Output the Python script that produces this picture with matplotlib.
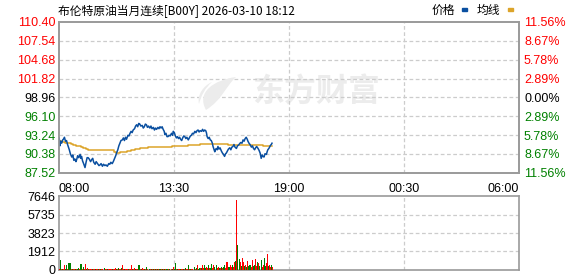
import numpy as np
import matplotlib
matplotlib.use("Agg")
import matplotlib.pyplot as plt
from matplotlib.path import Path
from matplotlib.patches import PathPatch

plt.rcParams['font.family'] = ['Liberation Sans', 'Noto Sans CJK SC', 'DejaVu Sans']

# ---------------- data ----------------
title_text = "布伦特原油当月连续[B00Y] 2026-03-10 18:12"
legend_labels = ["价格", "均线"]

time_ticks = [0, 330, 660, 990, 1320]          # minutes after 08:00
time_labels = ["08:00", "13:30", "19:00", "00:30", "06:00"]

price_ticks = [110.40, 107.54, 104.68, 101.82, 98.96, 96.10, 93.24, 90.38, 87.52]
price_labels = ["110.40", "107.54", "104.68", "101.82", "98.96", "96.10", "93.24", "90.38", "87.52"]
pct_labels = ["11.56%", "8.67%", "5.78%", "2.89%", "0.00%", "2.89%", "5.78%", "8.67%", "11.56%"]
label_side = ["up", "up", "up", "up", "flat", "down", "down", "down", "down"]

vol_ticks = [0, 1912, 3823, 5735, 7646]
vol_labels = ["0", "1912", "3823", "5735", "7646"]

price_t = [0, 2, 4, 6, 9, 12, 14, 17, 20, 23, 26, 28, 31, 34, 38, 41, 44, 47, 50, 52,
           55, 58, 62, 64, 66, 69, 72, 76, 79, 82, 85, 88, 92, 95, 98, 101, 105, 108, 112, 116,
           119, 122, 126, 129, 133, 136, 140, 144, 147, 150, 154, 157, 160, 164, 167, 170, 173, 176, 179, 183,
           186, 189, 192, 195, 199, 202, 205, 208, 211, 214, 218, 221, 224, 227, 230, 233, 236, 240, 243, 246,
           249, 252, 255, 258, 262, 265, 268, 272, 275, 278, 281, 285, 288, 291, 294, 297, 300, 303, 305, 308,
           311, 314, 317, 320, 324, 327, 329, 332, 335, 338, 341, 344, 347, 350, 353, 356, 359, 362, 365, 368,
           372, 375, 378, 381, 384, 387, 391, 394, 397, 400, 403, 406, 410, 413, 416, 419, 422, 424, 426, 429,
           432, 435, 438, 441, 443, 446, 448, 450, 452, 455, 457, 460, 463, 467, 470, 473, 476, 479, 481, 484,
           487, 491, 494, 497, 500, 503, 506, 510, 513, 516, 519, 522, 526, 529, 532, 535, 538, 541, 543, 546,
           549, 553, 556, 559, 562, 565, 568, 572, 575, 578, 581, 584, 586, 589, 592, 596, 598, 600, 603, 606,
           608, 610, 612]
price_v = [92.0, 92.8, 91.6, 92.3, 92.0, 92.5, 92.6, 92.9, 92.3, 92.4, 91.8, 91.5, 91.0, 90.4, 89.9, 90.2, 89.4, 89.6, 89.2, 89.5,
           90.1, 89.8, 90.3, 89.7, 90.0, 89.3, 88.9, 88.3, 89.1, 89.8, 89.8, 89.6, 89.2, 89.5, 89.7, 89.1, 88.8, 89.2, 88.9, 88.6,
           88.7, 88.9, 88.5, 88.8, 88.6, 88.7, 88.5, 88.9, 88.8, 89.1, 88.9, 89.2, 89.6, 90.1, 90.6, 91.0, 91.6, 92.0, 92.4, 92.5,
           92.8, 92.4, 92.9, 92.6, 93.2, 93.1, 93.5, 93.8, 93.6, 94.0, 94.2, 94.6, 94.8, 94.5, 95.0, 94.9, 94.6, 94.7, 94.3, 94.5,
           94.9, 94.8, 94.4, 94.6, 94.3, 94.6, 94.2, 94.4, 94.0, 94.3, 94.1, 94.4, 94.2, 94.5, 94.3, 94.5, 94.1, 93.8, 93.3, 93.5,
           93.0, 93.0, 93.2, 93.1, 93.5, 93.2, 93.8, 93.6, 93.1, 92.8, 93.0, 92.7, 92.9, 92.6, 92.4, 92.8, 93.1, 93.0, 92.7, 92.9,
           92.5, 92.8, 93.1, 93.2, 93.5, 93.4, 93.8, 93.6, 93.9, 94.0, 93.7, 93.9, 93.8, 94.1, 93.8, 94.0, 93.9, 93.6, 93.0, 92.7,
           92.9, 92.5, 92.4, 92.0, 91.5, 91.0, 90.7, 91.0, 91.2, 91.0, 91.5, 91.1, 91.3, 90.8, 90.5, 90.3, 90.0, 90.4, 90.5, 90.8,
           91.1, 91.3, 91.0, 91.4, 91.5, 91.8, 91.4, 91.2, 91.6, 91.7, 91.9, 92.1, 92.0, 92.5, 92.3, 92.7, 92.9, 92.6, 92.3, 92.0,
           91.8, 91.4, 91.6, 91.2, 91.0, 91.3, 91.5, 91.2, 90.9, 90.5, 89.7, 90.2, 90.0, 89.9, 90.4, 90.3, 90.7, 91.0, 91.2, 91.5,
           91.7, 91.8, 92.0]

avg_t = [0, 10, 20, 28, 35, 42, 50, 57, 64, 71, 78, 85, 120, 150, 160, 166, 176, 186, 195, 207,
         219, 233, 257, 324, 372, 405, 486, 562, 586, 612]
avg_v = [92.3, 92.2, 92.1, 92.0, 91.9, 91.75, 91.6, 91.5, 91.4, 91.25, 91.1, 91.0, 90.95, 90.9, 90.6, 90.5, 90.6, 90.7, 90.8, 90.95,
         91.1, 91.25, 91.4, 91.6, 91.75, 91.85, 91.75, 91.65, 91.5, 91.5]

# volume per 3-minute slot from 08:00
vol_v = [80, 1050, 90, 70, 80, 510, 90, 450, 100, 680,
         750, 750, 90, 80, 120, 70, 80, 70, 90, 230,
         80, 640, 100, 340, 90, 640, 80, 170, 70, 70,
         70, 60, 70, 70, 60, 70, 80, 70, 60, 70,
         60, 70, 70, 170, 70, 60, 70, 70, 80, 60,
         70, 60, 70, 70, 170, 70, 80, 230, 70, 60,
         170, 450, 80, 70, 60, 70, 80, 70, 90, 450,
         80, 70, 170, 60, 70, 80, 450, 450, 90, 70,
         170, 70, 80, 70, 340, 80, 70, 60, 70, 80,
         70, 60, 70, 80, 70, 60, 70, 70, 80, 70,
         70, 80, 90, 80, 100, 90, 80, 100, 120, 340,
         100, 680, 120, 90, 80, 100, 90, 80, 100, 120,
         90, 200, 100, 120, 450, 110, 100, 90, 120, 340,
         120, 150, 540, 130, 200, 150, 180, 450, 160, 540,
         200, 340, 150, 450, 180, 220, 640, 200, 540, 250,
         540, 220, 340, 180, 200, 250, 200, 300, 540, 220,
         850, 780, 300, 270, 450, 250, 540, 300, 780, 920,
         7250, 2570, 1100, 850, 400, 1260, 780, 350, 450, 300,
         950, 350, 450, 540, 300, 1030, 350, 540, 1130, 400,
         780, 680, 350, 1030, 300, 540, 1260, 400, 680, 1660,
         350, 540, 300, 540, 340]
vol_dir = ("RGRGRRGGRG" "GGRGRRGRGG" "RGRGRRGRGR" "RRGRRGRRGR" "GRRGRRGRRR"
           "RGRRRGRGRR" "GRRGRRGRRR" "GRRGRRGGRG" "RRGRGRGRGR" "GRGRGRGGRG"
           "RGRGGRGRGR" "GGRGRRGRRG" "RGRRGRGRRG" "RGRGGRGRRG" "GRRGRGGRRG"
           "GRRGRGRGGR" "RRGGRRGRRG" "RGGRGRRGRG" "RGGGRRGGRR" "GRGGRRGGRR"
           "GRRGR")

# ---------------- style ----------------
RED = "#ff0000"
GREEN = "#008000"
DARK = "#000000"
BLUE = "#0a4fa0"
GOLD = "#dca42a"
GRID = "#cccccc"
SPINE = "#9a9a9a"
WMARK = "#ececec"

W, H = 578, 276
fig = plt.figure(figsize=(W / 100, H / 100), dpi=100)
fig.patch.set_facecolor("white")

def box(l, t, r, b):
    return [l / W, 1 - b / H, (r - l) / W, (b - t) / H]

ax = fig.add_axes(box(58.5, 22, 519, 172.7))
axv = fig.add_axes(box(58.5, 196.3, 519, 269.8))

# watermark (logo + text), in figure pixel space
def fp(x, y):
    return (x / W, 1 - y / H)

leaf = Path([fp(206, 110), fp(196, 92), fp(214, 80), fp(236, 77),
             fp(226, 86), fp(222, 100), fp(206, 110), fp(206, 110)],
            [Path.MOVETO, Path.CURVE4, Path.CURVE4, Path.CURVE4,
             Path.CURVE4, Path.CURVE4, Path.CURVE4, Path.CLOSEPOLY])
fig.patches.append(PathPatch(leaf, transform=fig.transFigure, facecolor=WMARK,
                             edgecolor="none", figure=fig, zorder=0))
stroke = Path([fp(199, 104), fp(197, 95), fp(203, 86), fp(212, 82),
               fp(205, 88), fp(201, 96), fp(199, 104), fp(199, 104)],
              [Path.MOVETO, Path.CURVE4, Path.CURVE4, Path.CURVE4,
               Path.CURVE4, Path.CURVE4, Path.CURVE4, Path.CLOSEPOLY])
fig.patches.append(PathPatch(stroke, transform=fig.transFigure, facecolor=WMARK,
                             edgecolor="none", figure=fig, zorder=0))
ax.patch.set_alpha(0)
ax.text(0.56, 0.53, "东方财富", transform=ax.transAxes, ha="center", va="center",
        fontsize=23, fontweight="bold", color=WMARK, family=["Noto Sans CJK SC"], zorder=0)

# main price panel
ax.set_xlim(time_ticks[0], time_ticks[-1])
ax.set_ylim(price_ticks[-1], price_ticks[0])
ax.set_xticks(time_ticks)
ax.set_xticklabels([])
ax.set_yticks(price_ticks)
ax.set_yticklabels(price_labels, fontsize=9)
ax.tick_params(axis="both", length=0)
ax.tick_params(axis="y", pad=2.2)
for x in time_ticks[1:-1]:
    ax.axvline(x, color=GRID, lw=0.9, ls=(0, (3, 2)), zorder=1)
for y in price_ticks[1:-1]:
    ax.axhline(y, color=GRID, lw=0.9, ls=(0, (3, 2)), zorder=1)

ax.plot(avg_t, avg_v, color=GOLD, lw=1.1, drawstyle="steps-post", zorder=3)
ax.plot(price_t, price_v, color=BLUE, lw=1.1, zorder=4)

side_color = {"up": RED, "flat": DARK, "down": GREEN}
for lab, s in zip(ax.get_yticklabels(), label_side):
    lab.set_color(side_color[s])

axr = ax.twinx()
axr.set_ylim(ax.get_ylim())
axr.set_yticks(price_ticks)
axr.set_yticklabels(pct_labels, fontsize=9)
axr.tick_params(axis="y", length=0, pad=3.6)
axr.patch.set_alpha(0)
for lab, s in zip(axr.get_yticklabels(), label_side):
    lab.set_color(side_color[s])

for a in (ax, axr, axv):
    for sp in a.spines.values():
        sp.set_color(SPINE)
        sp.set_linewidth(1.2)

# time labels
for i, (x, lab) in enumerate(zip(time_ticks, time_labels)):
    ha = "left" if i == 0 else ("right" if i == len(time_ticks) - 1 else "center")
    ax.annotate(lab, xy=(x, 0), xycoords=("data", "axes fraction"),
                xytext=(0, -11.5), textcoords="offset points", ha=ha, va="center",
                fontsize=9, color=DARK, annotation_clip=False)

# volume panel
vol_t = np.arange(len(vol_v)) * 3 + 1.5
vol_c = [RED if d == "R" else GREEN for d in vol_dir]
axv.set_xlim(time_ticks[0], time_ticks[-1])
axv.set_ylim(vol_ticks[0], vol_ticks[-1])
axv.bar(vol_t, vol_v, width=2.9, color=vol_c, linewidth=0, zorder=3)
axv.set_xticks([])
axv.set_yticks(vol_ticks)
axv.set_yticklabels(vol_labels, fontsize=9, color=DARK)
axv.tick_params(axis="y", length=0, pad=2.2)
for x in time_ticks[1:-1]:
    axv.axvline(x, color=GRID, lw=0.9, ls=(0, (3, 2)), zorder=1)
for y in vol_ticks[1:-1]:
    axv.axhline(y, color=GRID, lw=0.9, ls=(0, (3, 2)), zorder=1)

# title and legend
fig.text(58 / W, 1 - 10.5 / H, title_text, ha="left", va="center", fontsize=8.5,
         color=DARK, family=["Noto Sans CJK SC", "DejaVu Sans"])
fig.text(432 / W, 1 - 10.5 / H, legend_labels[0], ha="left", va="center", fontsize=8.5,
         color=DARK, family=["Noto Sans CJK SC"])
fig.text(477 / W, 1 - 10.5 / H, legend_labels[1], ha="left", va="center", fontsize=8.5,
         color=DARK, family=["Noto Sans CJK SC"])
fig.patches.append(plt.Rectangle((462 / W, 1 - 11 / H), 5 / W, 3 / H, transform=fig.transFigure,
                                 color=BLUE, figure=fig))
fig.patches.append(plt.Rectangle((508 / W, 1 - 11 / H), 5 / W, 3 / H, transform=fig.transFigure,
                                 color=GOLD, figure=fig))

fig.savefig("out.png", dpi=100, facecolor="white")
